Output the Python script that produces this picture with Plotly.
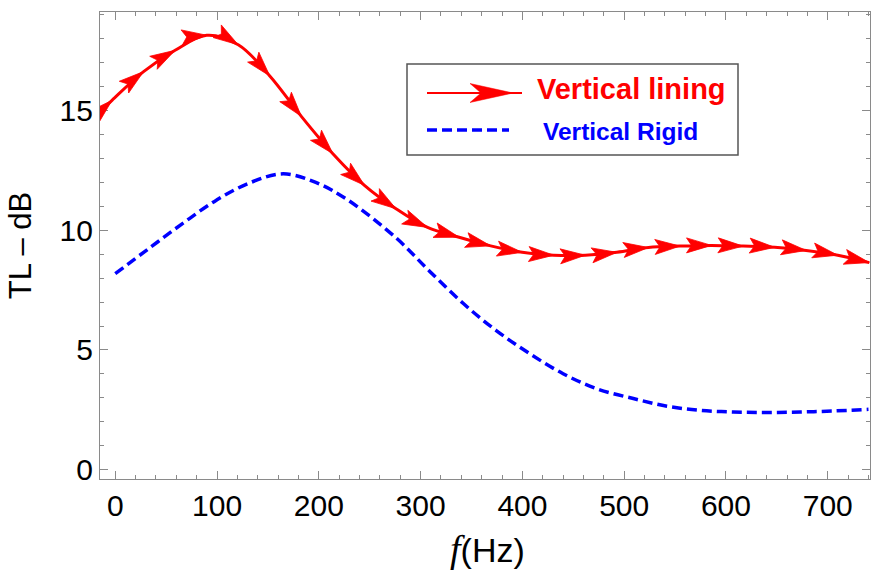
import math
import plotly.graph_objects as go

# ---- data ----
lining_f = [-15, -3.2, 27.8, 58.8, 89.8, 120.8, 151.8, 182.8, 213.8, 244.8, 275.8,
            306.8, 337.8, 368.8, 399.8, 430.8, 461.8, 492.8, 523.8, 554.8, 585.8,
            616.8, 647.8, 678.8, 709.8, 740.8]
lining_tl = [14.95, 15.43, 16.63, 17.52, 18.15, 17.75, 16.45, 14.76, 13.2, 11.88, 10.9,
             10.12, 9.71, 9.35, 9.08, 8.96, 8.96, 9.08, 9.28, 9.34, 9.37,
             9.34, 9.29, 9.16, 8.96, 8.65]

rigid_f = [0, 33, 66, 99, 132, 165, 197, 228, 276, 309, 342, 374, 407, 440,
           473, 509, 542, 574, 607, 640, 673, 705, 740]
rigid_tl = [8.19, 9.24, 10.28, 11.25, 11.98, 12.36, 12.0, 11.28, 9.68, 8.28,
            6.94, 5.82, 4.85, 4.01, 3.38, 2.97, 2.65, 2.48, 2.41, 2.39, 2.41, 2.45, 2.52]

x_ticks = [0, 100, 200, 300, 400, 500, 600, 700]
y_ticks = [0, 5, 10, 15]
legend_names = ["Vertical lining", "Vertical Rigid"]

RED = "#FF0000"
BLUE = "#0000FF"
FRAME = "#8a8a8a"
W, H = 877, 572
ML, MR, MT, MB = 100, 7, 12, 93
XR = [-15, 741.5]
YR = [-0.39, 19.12]

pw = W - ML - MR
ph = H - MT - MB
sx = pw / (XR[1] - XR[0])   # px per x unit (for arrow orientation only)
sy = ph / (YR[1] - YR[0])   # px per y unit

fig = go.Figure()

fig.add_trace(go.Scatter(
    x=rigid_f, y=rigid_tl, mode="lines",
    line=dict(color=BLUE, width=3.5, dash="10px,5px", shape="spline", smoothing=1.0),
    showlegend=False, hoverinfo="skip"))

fig.add_trace(go.Scatter(
    x=lining_f, y=lining_tl, mode="lines",
    line=dict(color=RED, width=3, shape="spline"),
    showlegend=False, hoverinfo="skip"))

# notched arrowhead geometry (pixels, tip at origin, pointing +x)
AL, AW, AN = 25.0, 7.5, 0.8
def head_path(ux, uy, L=AL, hw=AW, notch=AN):
    nx, ny = -uy, ux
    pts = [(0, 0), (-L, hw), (-L * notch, 0), (-L, -hw)]
    out = [(a * ux + b * nx, a * uy + b * ny) for a, b in pts]
    return "M" + " L".join(f"{X:.2f},{Y:.2f}" for X, Y in out) + " Z"

shapes = []
n = len(lining_f)
for i in range(1, n):
    j0 = i - 1
    j1 = i + 1 if i + 1 < n else i
    dx = (lining_f[j1] - lining_f[j0]) * sx
    dy = (lining_tl[j1] - lining_tl[j0]) * sy
    d = math.hypot(dx, dy)
    shapes.append(dict(type="path", xref="x", yref="y", xsizemode="pixel", ysizemode="pixel",
                       xanchor=lining_f[i], yanchor=lining_tl[i],
                       path=head_path(dx / d, dy / d), fillcolor=RED,
                       line=dict(color=RED, width=0.8), layer="above"))

# ---- manual legend (paper coordinates from pixel positions) ----
def px(p):
    return (p - ML) / pw
def py(p):
    return (H - MB - p) / ph

shapes += [
    dict(type="rect", xref="paper", yref="paper", x0=px(407), x1=px(738), y0=py(64), y1=py(155),
         line=dict(color="#555555", width=1.5), fillcolor="white", layer="above"),
    dict(type="line", xref="paper", yref="paper", x0=px(427), x1=px(522), y0=py(93), y1=py(93),
         line=dict(color=RED, width=2), layer="above"),
    dict(type="path", xref="paper", yref="paper",
         path=f"M{px(513)},{py(93)} L{px(470)},{py(83.5)} L{px(481)},{py(93)} L{px(470)},{py(102.5)} Z",
         fillcolor=RED, line=dict(color=RED, width=0.5), layer="above"),
    dict(type="line", xref="paper", yref="paper", x0=px(427), x1=px(509), y0=py(130), y1=py(130),
         line=dict(color=BLUE, width=3.5, dash="10px,5px"), layer="above"),
]

annotations = [
    dict(xref="paper", yref="paper", x=px(535), y=py(89), xanchor="left", yanchor="middle",
         text=f"<b>{legend_names[0]}</b>", showarrow=False,
         font=dict(family="Liberation Sans, Arial", size=29, color=RED)),
    dict(xref="paper", yref="paper", x=px(541), y=py(131), xanchor="left", yanchor="middle",
         text=f"<b>{legend_names[1]}</b>", showarrow=False,
         font=dict(family="Liberation Sans, Arial", size=24.5, color=BLUE)),
    dict(xref="paper", yref="paper", x=px(488), y=py(549), xanchor="center", yanchor="middle",
         text="<span style='font-family:Liberation Serif;font-size:38px'><i>f</i></span>(Hz)", showarrow=False,
         font=dict(family="Liberation Sans, Arial", size=34, color="black")),
]

axis_common = dict(
    showline=True, linecolor=FRAME, linewidth=1.3, mirror="allticks",
    ticks="inside", ticklen=8, tickwidth=1.2, tickcolor=FRAME,
    showgrid=False, zeroline=False,
    tickfont=dict(family="Liberation Sans, Arial", size=30, color="black"),
)

fig.update_layout(
    width=W, height=H,
    margin=dict(l=ML, r=MR, t=MT, b=MB),
    paper_bgcolor="white", plot_bgcolor="white",
    showlegend=False,
    shapes=shapes, annotations=annotations,
    xaxis=dict(range=XR, tickvals=x_ticks, ticktext=[str(v) for v in x_ticks],
               minor=dict(ticks="inside", ticklen=4, tickcolor=FRAME, dtick=20, tick0=0),
               **axis_common),
    yaxis=dict(range=YR, tickvals=y_ticks, ticktext=[str(v) for v in y_ticks],
               minor=dict(ticks="inside", ticklen=4, tickcolor=FRAME, dtick=1, tick0=0),
               title=dict(text="TL – dB", standoff=18,
                          font=dict(family="Liberation Sans, Arial", size=31, color="black")),
               **axis_common),
)

fig.write_html("out.html")
